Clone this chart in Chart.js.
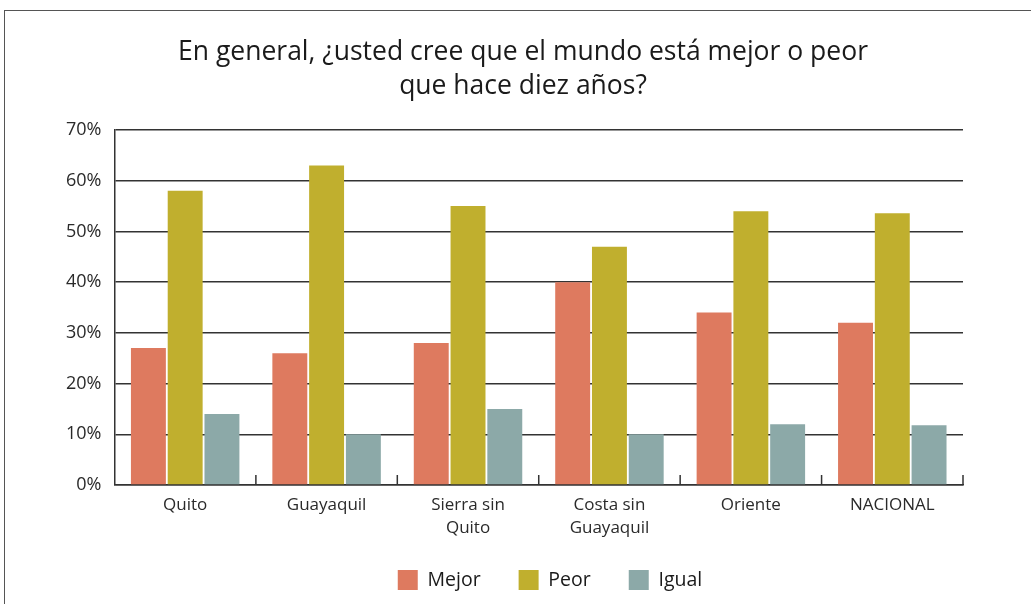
<!DOCTYPE html>
<html>
<head>
<meta charset="utf-8">
<script src="https://cdn.jsdelivr.net/npm/chart.js@4"></script>
<style>
  html, body { margin: 0; padding: 0; background: #fff; overflow: hidden; }
  #wrap { position: relative; width: 1031px; height: 604px; }
  #frame { position: absolute; left: 4px; top: 10px; width: 2000px; height: 2000px; border: 1.5px solid #555; box-sizing: border-box; pointer-events: none; }
  canvas { position: absolute; left: 0; top: 0; }
</style>
</head>
<body>
<div id="wrap">
  <canvas id="c" width="1031" height="604"></canvas>
  <div id="frame"></div>
</div>
<script>
const categories = ['Quito', 'Guayaquil', ['Sierra sin', 'Quito'], ['Costa sin', 'Guayaquil'], 'Oriente', 'NACIONAL'];
const mejor = [27, 26, 28, 40, 34, 32];
const peor = [58, 63, 55, 47, 54, 53.6];
const igual = [14, 10, 15, 10, 12, 11.8];
const yTicks = [0, 10, 20, 30, 40, 50, 60, 70];
const titleLines = ['En general, ¿usted cree que el mundo está mejor o peor', 'que hace diez años?'];

const FONT = "'Open Sans', 'Noto Sans', sans-serif";
const AXIS_COLOR = '#333333';
const TITLE_SHIFT = 15;
const LEGEND_SHIFT = 42;

const upTicks = {
  id: 'upTicks',
  afterLayout(chart) {
    // let the two-line category labels extend below the axis box
    chart.scales.x.bottom += 40;
    if (chart.titleBlock) { chart.titleBlock.left += TITLE_SHIFT; chart.titleBlock.right += TITLE_SHIFT; }
    if (chart.legend) { chart.legend.left += LEGEND_SHIFT; chart.legend.right += LEGEND_SHIFT; }
  },
  afterDatasetsDraw(chart) {
    const x = chart.scales.x;
    const area = chart.chartArea;
    const ctx = chart.ctx;
    ctx.save();
    ctx.strokeStyle = AXIS_COLOR;
    ctx.lineWidth = 1.5;
    const n = categories.length;
    const positions = [];
    for (let i = 0; i < n - 1; i++) {
      positions.push((x.getPixelForValue(i) + x.getPixelForValue(i + 1)) / 2);
    }
    positions.push(area.right);
    ctx.beginPath();
    positions.forEach(p => {
      ctx.moveTo(p, area.bottom);
      ctx.lineTo(p, area.bottom - 10);
    });
    ctx.stroke();
    ctx.restore();
  }
};

new Chart(document.getElementById('c'), {
  type: 'bar',
  data: {
    labels: categories,
    datasets: [
      { label: 'Mejor', data: mejor, backgroundColor: '#DE7A5F' },
      { label: 'Peor', data: peor, backgroundColor: '#C0AF2E' },
      { label: 'Igual', data: igual, backgroundColor: '#8CA9A8' }
    ]
  },
  options: {
    responsive: false,
    animation: false,
    devicePixelRatio: 1,
    layout: { padding: { left: 53, right: 68, top: 0, bottom: 4 } },
    datasets: { bar: { categoryPercentage: 0.78, barPercentage: 0.95 } },
    scales: {
      x: {
        grid: { display: false, drawTicks: false },
        border: { display: true, color: AXIS_COLOR, width: 1.5 },
        ticks: { color: '#2a2a2a', font: { family: FONT, size: 17, lineHeight: 1.35 }, padding: 9, maxRotation: 0, autoSkip: false },
        afterFit(scale) { scale.height = 47; }
      },
      y: {
        min: 0, max: 70,
        afterBuildTicks(scale) { scale.ticks = yTicks.map(v => ({ value: v })); },
        grid: { color: AXIS_COLOR, lineWidth: 1.5, drawTicks: false },
        border: { display: true, color: AXIS_COLOR, width: 1.5 },
        ticks: { color: '#2a2a2a', font: { family: FONT, size: 18 }, padding: 13, callback: v => v + '%' }
      }
    },
    plugins: {
      title: {
        display: true,
        text: titleLines,
        color: '#1a1a1a',
        font: { family: FONT, size: 26.5, weight: 'normal', lineHeight: 1.283 },
        padding: { top: 35, bottom: 27 }
      },
      legend: {
        position: 'bottom',
        labels: {
          color: '#1a1a1a',
          font: { family: FONT, size: 19.5 },
          boxWidth: 20, boxHeight: 20,
          padding: 38
        }
      },
      tooltip: { enabled: false }
    }
  },
  plugins: [upTicks]
});
</script>
</body>
</html>
